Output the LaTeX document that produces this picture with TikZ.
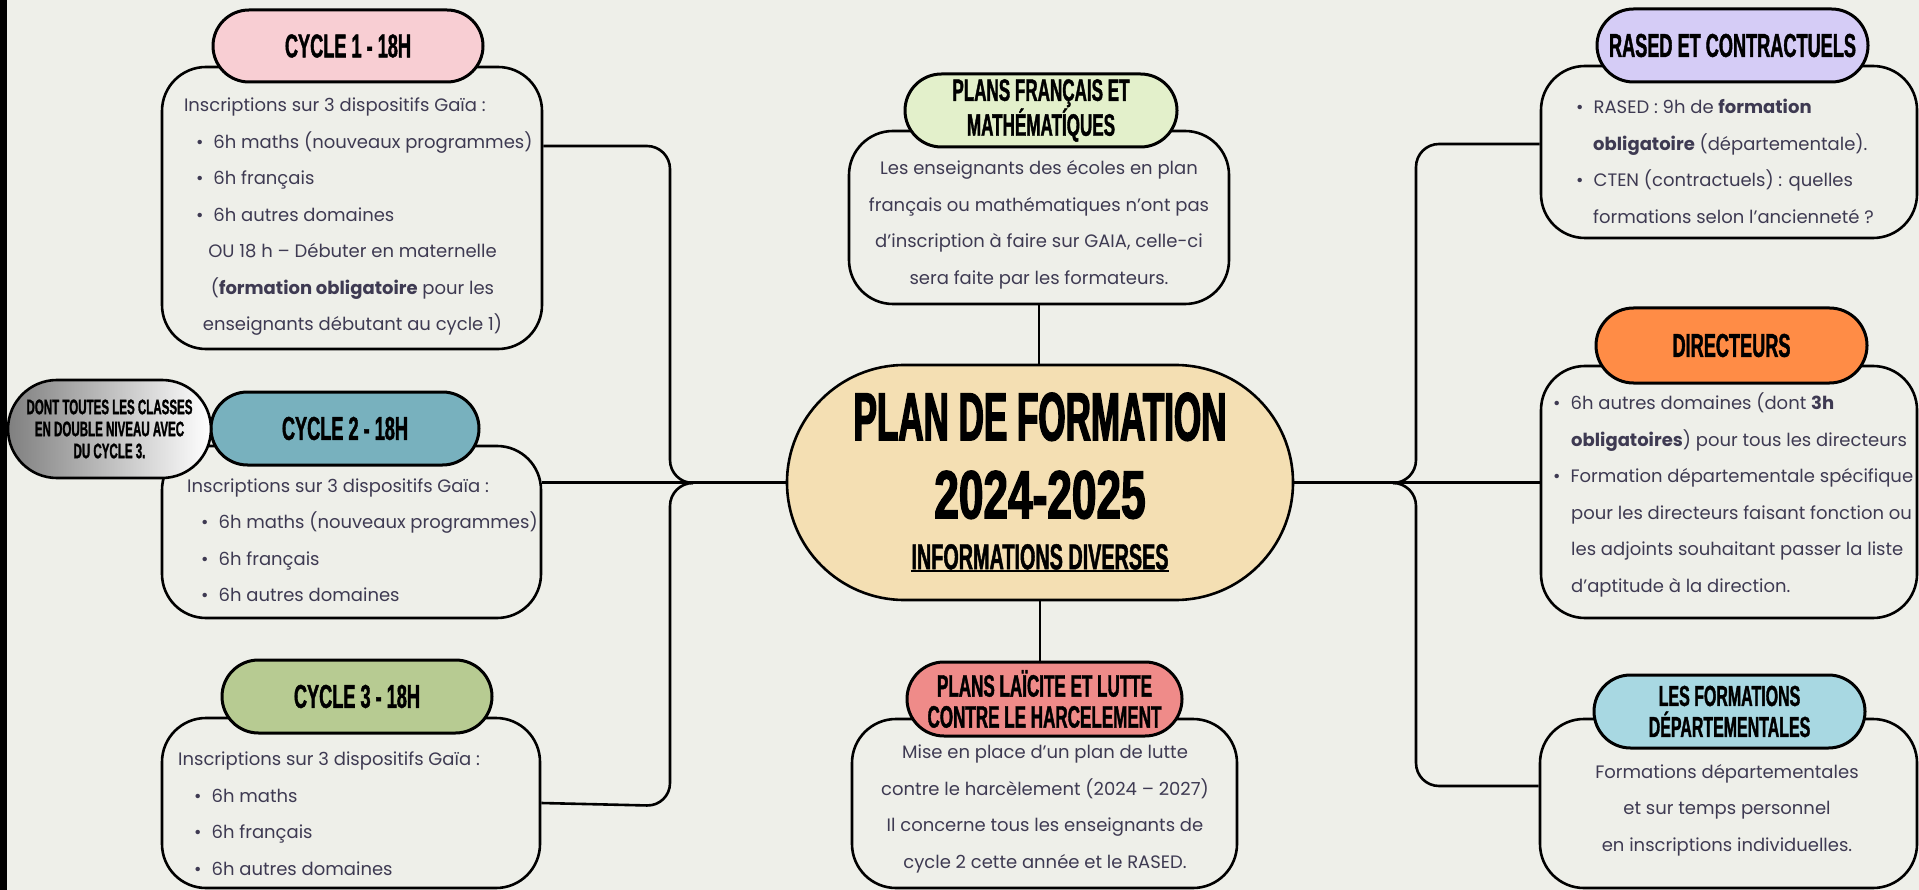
\documentclass[tikz,border=0pt]{standalone}
\usepackage{fontspec}
\setmainfont{Poppins}
\newfontfamily\headfont[FakeStretch=0.55,FakeBold=1.2]{Liberation Sans}
\newfontfamily\titlefont[FakeStretch=0.515,FakeBold=2]{Liberation Sans}
\newfontfamily\yearfont[FakeStretch=0.65,FakeBold=2]{Liberation Sans}
\usetikzlibrary{
    positioning,
    calc,
    shapes.misc
}

\definecolor{paper}{HTML}{EEEFE9}
\definecolor{ink}{HTML}{3E3A52}
\definecolor{cycleone}{HTML}{F8CED3}
\definecolor{cycletwo}{HTML}{78B1BE}
\definecolor{cyclethree}{HTML}{B7CB92}
\definecolor{plansfr}{HTML}{E3F0CB}
\definecolor{wheat}{HTML}{F4DFB3}
\definecolor{laicite}{HTML}{EF8B89}
\definecolor{rased}{HTML}{D5CCF6}
\definecolor{directors}{HTML}{FF8C46}
\definecolor{depts}{HTML}{A8D8E2}

\newcommand{\puce}{\textbullet\hspace{10pt}}
\newcommand{\souligne}[1]{\setbox0=\hbox{#1}\rlap{\rule[-3pt]{\wd0}{1.8pt}}\box0}

\tikzset{
    infobox/.style={draw, line width=2.6pt, rounded corners=44pt, fill=paper, inner sep=0pt},
    headpill/.style={rounded rectangle, draw, line width=3pt, inner sep=0pt,
        minimum width=271pt, minimum height=73pt, align=center,
        font=\headfont\bfseries\fontsize{31}{31}\selectfont},
    infotext/.style={text=ink, inner sep=0pt, font=\fontsize{18}{36.5}\selectfont},
    branch/.style={line width=2.6pt, rounded corners=23pt}
}

\begin{document}
\begin{tikzpicture}[x=1pt, y=-1pt]
    % Background
    \useasboundingbox (0,0) rectangle (1919,890);
    \fill[paper] (0,0) rectangle (1919,890);
    \fill[black] (0,0) rectangle (7,890);

    % Central node
    \node[rounded rectangle, draw, line width=2.6pt, fill=wheat, inner sep=0pt,
        minimum width=506pt, minimum height=235pt, align=center,
        font=\fontsize{68}{78}\selectfont] (plan) at (1040,482.5)
        {{\titlefont\bfseries PLAN DE FORMATION}\\
         {\yearfont\bfseries 2024-2025}\\[-27pt]
         {\headfont\bfseries\fontsize{36}{40}\selectfont\souligne{INFORMATIONS DIVERSES}}};

    % Boxes
    \node[infobox, minimum width=380pt, minimum height=282pt] (c1) at (352,208) {};
    \node[infobox, minimum width=379pt, minimum height=172pt] (c2) at (351.5,532) {};
    \node[infobox, minimum width=378pt, minimum height=170pt] (c3) at (351,803) {};
    \node[infobox, minimum width=380pt, minimum height=173pt] (pf) at (1039,217.5) {};
    \node[infobox, minimum width=385pt, minimum height=169pt] (lc) at (1044.5,803.5) {};
    \node[infobox, minimum width=376pt, minimum height=172pt] (ra) at (1729,152) {};
    \node[infobox, minimum width=376pt, minimum height=252pt] (di) at (1729,492) {};
    \node[infobox, minimum width=377pt, minimum height=169pt] (fd) at (1728.5,803.5) {};

    % Branches
    \draw[branch] ([yshift=62pt]c1.east) -- (670,146) -- (670,483) -- (693,483);
    \draw[branch] (693,483) -- (670,483) -- (670,806) -- (c3.east);
    \draw[branch] (plan.west) -- (plan.west -| c2.east);
    \draw[branch] ([yshift=8pt]ra.west) -- (1416,144) -- (1416,483) -- (1393,483);
    \draw[branch] (1393,483) -- (1416,483) -- (1416,786) -- ([yshift=17.5pt]fd.west);
    \draw[branch] (plan.east) -- (plan.east -| di.west);
    \draw[branch] (pf.south) -- (pf.south |- plan.north);
    \draw[branch] (plan.south) -- (plan.south |- 0,662);

    % Headers
    \node[headpill, fill=cycleone, minimum width=270pt, minimum height=72pt, font=\headfont\bfseries\fontsize{33}{33}\selectfont] (h1) at (348,46) {CYCLE 1 - 18H};
    \node[headpill, fill=cycletwo, minimum width=268pt, font=\headfont\bfseries\fontsize{33}{33}\selectfont] (h2) at (345,428.5) {CYCLE 2 - 18H};
    \node[headpill, fill=cyclethree, minimum width=270pt, font=\headfont\bfseries\fontsize{33}{33}\selectfont] (h3) at (357,696.5) {CYCLE 3 - 18H};
    \node[headpill, fill=plansfr, minimum width=272pt] (hpf) at (1041,110.5) {PLANS FRANÇAIS ET\\MATHÉMATÍQUES};
    \node[headpill, fill=laicite, minimum width=275pt, minimum height=74pt] (hlc) at (1044.5,699) {PLANS LAÏCITE ET LUTTE\\CONTRE LE HARCELEMENT};
    \node[headpill, fill=rased, font=\headfont\bfseries\fontsize{33}{33}\selectfont] (hra) at (1732.5,45.5) {RASED ET CONTRACTUELS};
    \node[headpill, fill=directors, minimum height=75pt, font=\headfont\bfseries\fontsize{33}{33}\selectfont] (hdi) at (1731.5,345.5) {DIRECTEURS};
    \node[headpill, fill=depts, font=\headfont\bfseries\fontsize{29}{31}\selectfont] (hfd) at (1729.5,711.5) {LES FORMATIONS\\DÉPARTEMENTALES};
    \node[rounded rectangle, draw, line width=2.6pt, left color=black!50, right color=white,
        minimum width=203pt, minimum height=98pt, inner sep=0pt, align=center,
        font=\headfont\bfseries\fontsize{21}{22}\selectfont] (note) at (109.5,429)
        {DONT TOUTES LES CLASSES\\EN DOUBLE NIVEAU AVEC\\DU CYCLE 3.};

    % Texts
    \node[infotext, align=center] at (352.5,217) {%
        \makebox[337pt][l]{Inscriptions sur 3 dispositifs Gaïa :}\\
        \makebox[337pt][l]{\hspace*{12pt}\puce 6h maths (nouveaux programmes)}\\
        \makebox[337pt][l]{\hspace*{12pt}\puce 6h français}\\
        \makebox[337pt][l]{\hspace*{12pt}\puce 6h autres domaines}\\
        OU 18 h – Débuter en maternelle\\
        (\textbf{formation obligatoire} pour les\\
        enseignants débutant au cycle 1)};
    \node[infotext, align=left, anchor=west] at (187,540) {%
        Inscriptions sur 3 dispositifs Gaïa :\\
        \hspace*{14pt}\puce 6h maths (nouveaux programmes)\\
        \hspace*{14pt}\puce 6h français\\
        \hspace*{14pt}\puce 6h autres domaines};
    \node[infotext, align=left, anchor=west] at (178,813.5) {%
        Inscriptions sur 3 dispositifs Gaïa :\\
        \hspace*{16pt}\puce 6h maths\\
        \hspace*{16pt}\puce 6h français\\
        \hspace*{16pt}\puce 6h autres domaines};
    \node[infotext, align=center] at (1039,225) {%
        Les enseignants des écoles en plan\\
        français ou mathématiques n’ont pas\\
        d’inscription à faire sur GAIA, celle-ci\\
        sera faite par les formateurs.};
    \node[infotext, align=center] at (1045,809) {%
        Mise en place d’un plan de lutte\\
        contre le harcèlement (2024 – 2027)\\
        Il concerne tous les enseignants de\\
        cycle 2 cette année et le RASED.};
    \node[infotext, align=left, anchor=west] at (1576,161.5) {%
        \puce RASED : 9h de \textbf{formation}\\
        \hspace*{17pt}\textbf{obligatoire} (départementale).\\
        \puce CTEN (contractuels) : quelles\\
        \hspace*{17pt}formations selon l’ancienneté ?};
    \node[infotext, align=left, anchor=west] at (1553,495) {%
        \puce 6h autres domaines (dont \textbf{3h}\\
        \hspace*{18pt}\textbf{obligatoires}) pour tous les directeurs\\
        \puce Formation départementale spécifique\\
        \hspace*{18pt}pour les directeurs faisant fonction ou\\
        \hspace*{18pt}les adjoints souhaitant passer la liste\\
        \hspace*{18pt}d’aptitude à la direction.};
    \node[infotext, align=center] at (1727,810) {%
        Formations départementales\\
        et sur temps personnel\\
        en inscriptions individuelles.};
\end{tikzpicture}
\end{document}
